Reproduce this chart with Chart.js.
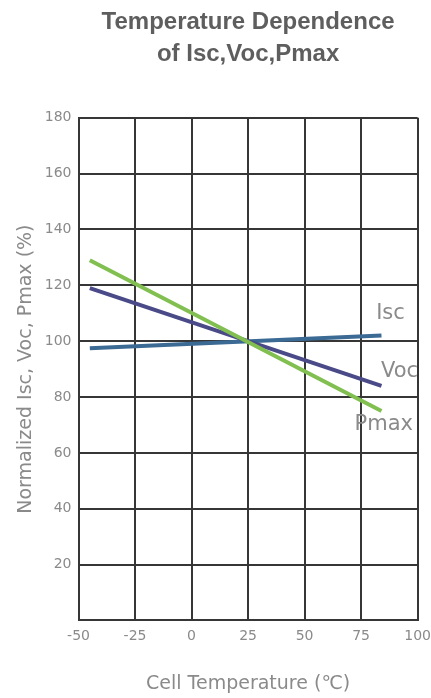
<!DOCTYPE html>
<html>
<head>
<meta charset="utf-8">
<script src="https://cdn.jsdelivr.net/npm/chart.js@4"></script>
<style>
  html, body { margin: 0; padding: 0; background: #fff; }
  #wrap { width: 431px; height: 698px; }
</style>
</head>
<body>
<div id="wrap"><canvas id="chart"></canvas></div>
<script>
// data (cell temperature in C, normalized %)
const temps = [-45, 84];
const isc = [97.5, 102];
const voc = [119, 84];
const pmax = [129, 75];

// the little names written next to each line end, in data units
const labelNames = ['Isc', 'Voc', 'Pmax'];
const labelTemps = [88, 92, 85];
const labelVals = [110, 89, 70];

const xTicks = [-50, -25, 0, 25, 50, 75, 100];
const yTicks = [20, 40, 60, 80, 100, 120, 140, 160, 180];

const gridColor = '#363636';
const textColor = '#8a8a8a';
const fontFam = '"DejaVu Sans", sans-serif';

// draws the Isc / Voc / Pmax names, placed through the scales
const lineNames = {
  id: 'lineNames',
  afterDatasetsDraw(chart) {
    const ctx = chart.ctx;
    const xs = chart.scales.x, ys = chart.scales.y;
    ctx.save();
    ctx.font = '21px ' + fontFam;
    ctx.fillStyle = textColor;
    ctx.textAlign = 'center';
    ctx.textBaseline = 'middle';
    for (let i = 0; i < labelNames.length; i++) {
      ctx.fillText(labelNames[i], xs.getPixelForValue(labelTemps[i]), ys.getPixelForValue(labelVals[i]));
    }
    ctx.restore();
  }
};

function points(vals) {
  return vals.map((v, i) => ({ x: temps[i], y: v }));
}

new Chart(document.getElementById('chart'), {
  type: 'line',
  data: {
    datasets: [
      { label: 'Pmax', data: points(pmax), borderColor: '#80bf50', borderWidth: 4, pointRadius: 0 },
      { label: 'Voc', data: points(voc), borderColor: '#4a4a88', borderWidth: 4, pointRadius: 0 },
      { label: 'Isc', data: points(isc), borderColor: '#3b6a94', borderWidth: 4, pointRadius: 0 }
    ]
  },
  options: {
    responsive: true,
    maintainAspectRatio: false,
    animation: false,
    plugins: {
      legend: { display: false },
      tooltip: { enabled: false },
      title: {
        display: true,
        fullSize: false,
        text: ['Temperature Dependence', 'of Isc,Voc,Pmax'],
        color: '#5e5e5e',
        font: { family: '"Liberation Sans", Arial, sans-serif', size: 24, weight: 'bold', lineHeight: 1.35 },
        padding: { top: 6, bottom: 47 }
      }
    },
    scales: {
      x: {
        type: 'linear',
        min: -50,
        max: 100,
        afterBuildTicks(axis) { axis.ticks = xTicks.map(v => ({ value: v })); },
        grid: { color: gridColor, lineWidth: 2, drawTicks: true, tickLength: 8, tickColor: 'rgba(0,0,0,0)' },
        border: { color: gridColor, width: 2 },
        ticks: { color: textColor, padding: 0, font: { family: fontFam, size: 14 } },
        title: {
          display: true,
          text: 'Cell Temperature (℃)',
          color: textColor,
          font: { family: fontFam, size: 19 },
          padding: { top: 27, bottom: 3 }
        }
      },
      y: {
        min: 0,
        max: 180,
        afterBuildTicks(axis) { axis.ticks = [0].concat(yTicks).map(v => ({ value: v })); },
        grid: { color: gridColor, lineWidth: 2, drawTicks: false },
        border: { color: gridColor, width: 2 },
        ticks: {
          color: textColor,
          padding: 7,
          font: { family: fontFam, size: 14 },
          callback: v => (v === 0 ? '' : v)
        },
        title: {
          display: true,
          text: 'Normalized Isc, Voc, Pmax (%)',
          color: textColor,
          font: { family: fontFam, size: 19 },
          padding: { top: 15, bottom: 0 }
        }
      }
    }
  },
  plugins: [lineNames]
});
</script>
</body>
</html>
